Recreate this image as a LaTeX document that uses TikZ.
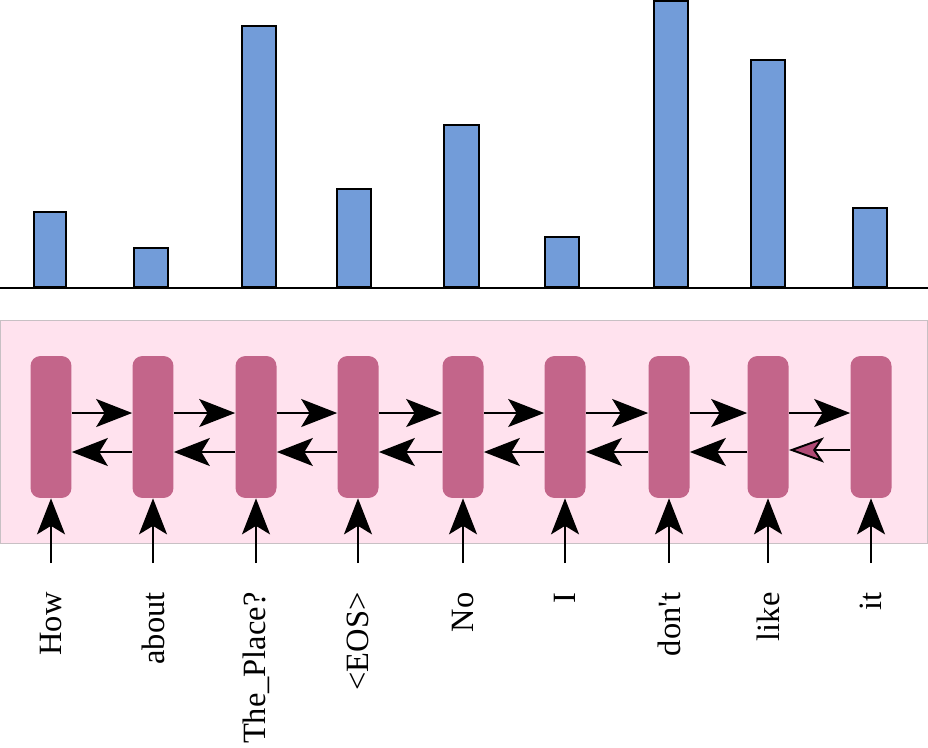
\documentclass[tikz,border=0pt]{standalone}
\usepackage{fontspec}
\setmainfont{Liberation Serif}
\usetikzlibrary{arrows.meta}
\definecolor{barblue}{HTML}{729CD9}
\definecolor{panelpink}{HTML}{FFE2EE}
\definecolor{panelline}{HTML}{C8C0C4}
\definecolor{cellpink}{HTML}{C3658A}
\definecolor{tipred}{HTML}{B04A75}
\tikzset{
  cell/.style={fill=cellpink, rounded corners=0.2cm, minimum width=0.82cm,
    minimum height=2.84cm, inner sep=0pt},
  link/.style={line width=1.1pt, -{Stealth[length=0.72cm,width=0.56cm,inset=0.17cm]}},
  bar/.style={fill=barblue, draw=black, line width=0.6pt},
  word/.style={rotate=90, anchor=east, inner sep=0pt,
    font=\fontsize{18.5}{20}\selectfont}
}
\begin{document}
\begin{tikzpicture}[x=0.02cm,y=-0.02cm]
  \useasboundingbox (0,0) rectangle (928,747);
  % attention weights
  \foreach \xa/\xb/\top in {34/66/212, 134/168/248, 242/276/26, 337/371/189,
      444/479/125, 545/579/237, 654/688/1, 751/785/60, 853/887/208} {
    \draw[bar] (\xa,287) rectangle (\xb,\top);
  }
  \draw[line width=1.2pt] (0,288) -- (928,288);
  % encoder
  \draw[fill=panelpink, draw=panelline] (0.5,320) rectangle (927.5,543);
  \foreach \i/\x/\w in {1/51/How, 2/153/about, 3/256/The\_Place?, 4/358/<EOS>,
      5/463/No, 6/565/I, 7/669/don\textquotesingle t, 8/768/like, 9/871/it} {
    \node[cell] (c\i) at (\x,427) {};
    \node[word] (w\i) at (\x,592) {\w};
    \coordinate (in\i) at (\x,563);
    \draw[link] (in\i) -- (c\i.south);
  }
  \foreach \i/\j in {1/2, 2/3, 3/4, 4/5, 5/6, 6/7, 7/8, 8/9} {
    \draw[link] ([yshift=0.28cm]c\i.east) -- ([yshift=0.28cm]c\j.west);
  }
  \foreach \i/\j in {1/2, 2/3, 3/4, 4/5, 5/6, 6/7, 7/8} {
    \draw[link] ([yshift=-0.5cm]c\j.west) -- ([yshift=-0.5cm]c\i.east);
  }
  \draw[line width=1.1pt, -{Stealth[length=0.7cm,width=0.5cm,inset=0.17cm,fill=tipred]}]
    ([yshift=-0.46cm]c9.west) -- ([yshift=-0.46cm]c8.east);
\end{tikzpicture}
\end{document}
